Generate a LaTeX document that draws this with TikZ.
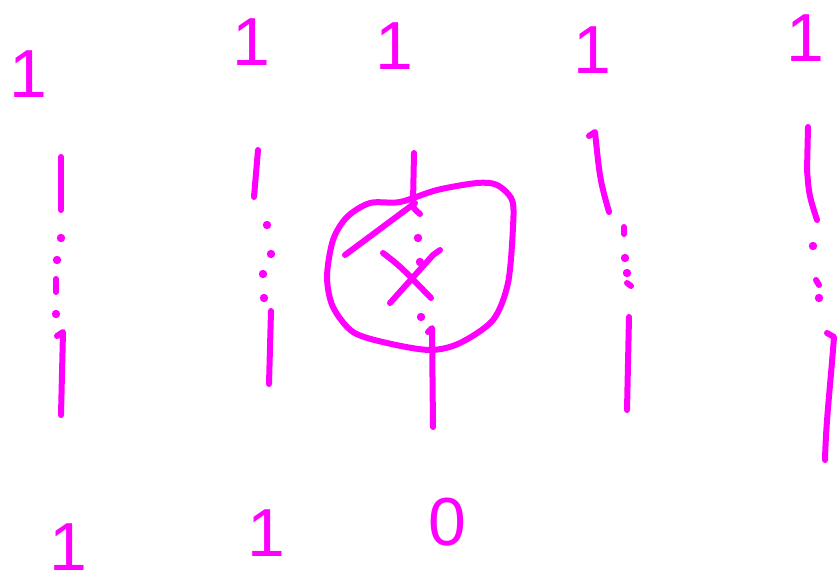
\documentclass[tikz,border=0pt]{standalone}
\usepackage{fontspec}
\setmainfont{Liberation Sans}
\definecolor{ink}{HTML}{FF00FF}
\begin{document}
\begin{tikzpicture}[
    x=1pt, y=-1pt,
    pen/.style={draw=ink, line width=6pt, line cap=round, line join=round},
    digit/.style={text=ink, inner sep=0pt, font=\fontsize{68}{68}\selectfont}
]
    \useasboundingbox (0,0) rectangle (840,584);

    % Top ones
    \node (t1) [digit] at (28,74) {1};
    \node (t2) [digit] at (251,42) {1};
    \node (t3) [digit] at (394,46) {1};
    \node (t4) [digit] at (592,50) {1};
    \node (t5) [digit] at (805,38) {1};

    % Bottom digits
    \node (b1) [digit] at (68,547) {1};
    \node (b2) [digit] at (266,533) {1};
    \node (b3) [digit] at (447,522) {0};

    % Wires
    \draw [pen] (61,157) -- (61,210);
    \draw [pen] (57,336) -- (63,332) -- (61,415);
    \draw [pen] (258,150) -- (254,197);
    \draw [pen] (271,311) -- (269,384);
    \draw [pen] (414,153) -- (413,202) .. controls (413,208) .. (420,214);
    \draw [pen] (428,332) -- (432,328) -- (433,427);
    \draw [pen] (589,136) -- (595,132) .. controls (600,180) .. (609,212);
    \draw [pen] (629,317) -- (627,410);
    \draw [pen] (808,127) -- (807,170) .. controls (809,195) .. (817,220);
    \draw [pen] (827,333) -- (834,337) .. controls (830,390) and (826,420) .. (825,460);

    % Dots
    \foreach \x/\y in {61/238, 57/260, 56/314,
                       267/225, 271/254, 263/274, 264/298,
                       418/238, 420/262, 421/317,
                       625/258, 627/273,
                       813/246, 819/298}
        \fill [ink] (\x,\y) circle (4.2pt);
    \draw [pen] (56,279) -- (56,292);
    \draw [pen] (624,227) -- (624,234);
    \draw [pen] (627,283) -- (631,286);
    \draw [pen] (816,280) -- (819,285);

    % Circled cross
    \draw [pen] plot [smooth cycle] coordinates {
        (400,202) (437,190) (477,183) (497,185) (512,200) (513,227)
        (508,283) (493,320) (460,343) (430,350) (387,343) (353,332)
        (333,307) (327,277) (333,240) (347,217) (370,203)};
    \draw [pen] (345,255) -- (415,203);
    \draw [pen] (383,253) .. controls (400,266) .. (431,298);
    \draw [pen] (390,303) -- (433,255) -- (440,250);
\end{tikzpicture}
\end{document}
